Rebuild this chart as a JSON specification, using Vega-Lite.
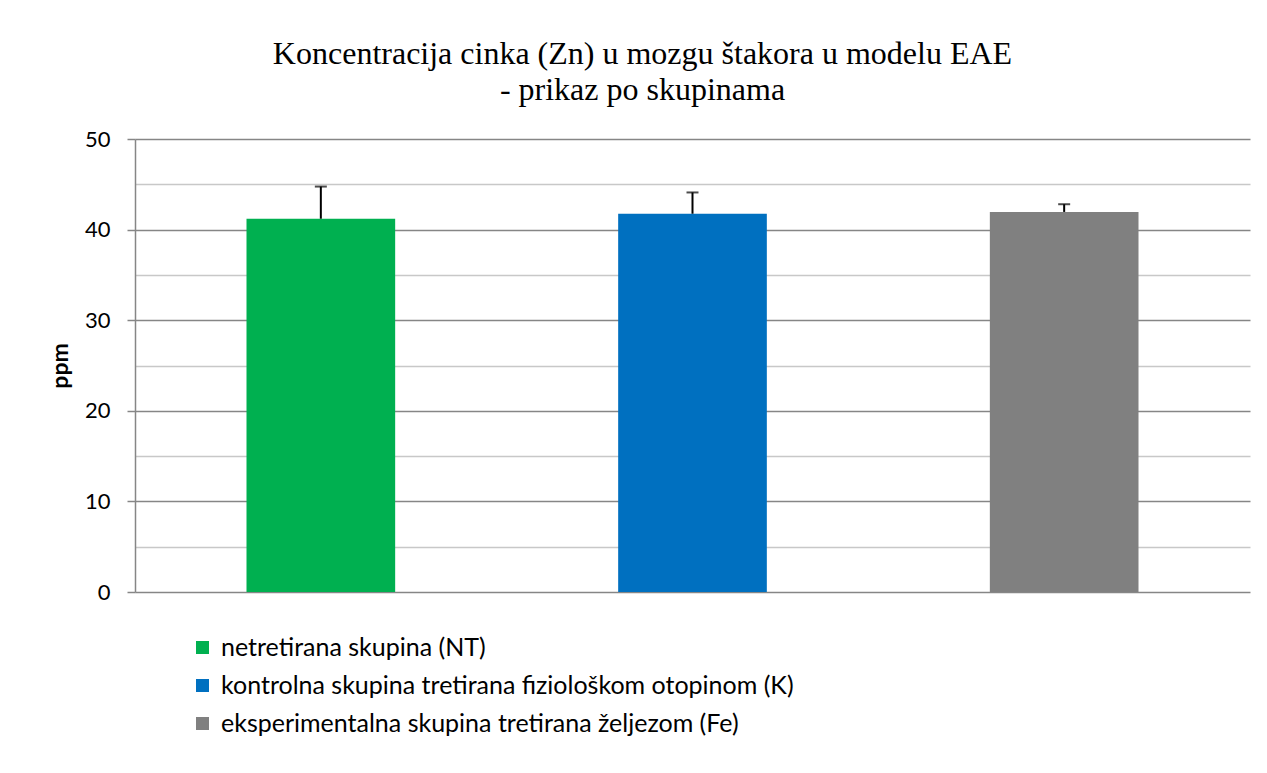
{
  "$schema": "https://vega.github.io/schema/vega-lite/v6.json",
  "width": 1115,
  "height": 453,
  "autosize": {"type": "none"},
  "padding": {"left": 135, "top": 139, "right": 17, "bottom": 181},
  "background": "white",
  "title": {
    "text": ["Koncentracija cinka (Zn) u mozgu štakora u modelu EAE", "- prikaz po skupinama"],
    "font": "Liberation Serif",
    "fontSize": 32,
    "fontWeight": "normal",
    "color": "#000000",
    "lineHeight": 36,
    "anchor": "middle",
    "frame": "group",
    "dx": -50,
    "offset": 21
  },
  "data": {
    "values": [
      {"group": "netretirana skupina (NT)", "ppm": 41.2, "upper": 44.75},
      {"group": "kontrolna skupina tretirana fiziološkom otopinom (K)", "ppm": 41.75, "upper": 44.1},
      {"group": "eksperimentalna skupina tretirana željezom (Fe)", "ppm": 41.95, "upper": 42.8}
    ]
  },
  "encoding": {
    "x": {
      "field": "group",
      "type": "nominal",
      "sort": null,
      "axis": null,
      "scale": {"paddingInner": 0.6, "paddingOuter": 0.3}
    }
  },
  "layer": [
    {
      "mark": {"type": "bar"},
      "encoding": {
        "y": {
          "field": "ppm",
          "type": "quantitative",
          "scale": {"domain": [0, 50], "nice": false},
          "axis": {
            "title": "ppm",
            "titleFont": "Lato",
            "titleFontSize": 23,
            "titleFontWeight": "bold",
            "titleColor": "#000000",
            "titlePadding": 12,
            "values": [0, 5, 10, 15, 20, 25, 30, 35, 40, 45, 50],
            "labelExpr": "datum.value % 10 === 0 ? datum.label : ''",
            "labelFont": "Lato",
            "labelFontSize": 22,
            "labelColor": "#000000",
            "labelPadding": 17,
            "tickSize": 8,
            "tickColor": "#868686",
            "tickWidth": 1.5,
            "tickOpacity": {"condition": {"test": "datum.value % 10 === 0", "value": 1}, "value": 0},
            "domainColor": "#868686",
            "domainWidth": 1.5,
            "grid": true,
            "gridWidth": 1.5,
            "gridColor": {"condition": {"test": "datum.value % 10 === 0", "value": "#868686"}, "value": "#c8c8c8"}
          }
        },
        "color": {
          "field": "group",
          "type": "nominal",
          "sort": null,
          "scale": {"range": ["#00B050", "#0070C0", "#808080"]},
          "legend": {
            "title": null,
            "orient": "none",
            "legendX": 55,
            "legendY": 496,
            "direction": "vertical",
            "symbolType": "square",
            "symbolSize": 169,
            "symbolStrokeWidth": 0,
            "labelFont": "Lato",
            "labelFontSize": 25,
            "labelColor": "#000000",
            "labelOffset": 6,
            "rowPadding": 12,
            "padding": 0,
            "labelLimit": 900
          }
        }
      }
    },
    {
      "mark": {"type": "rule", "color": "#000000", "strokeWidth": 2},
      "encoding": {
        "y": {"field": "ppm", "type": "quantitative"},
        "y2": {"field": "upper"}
      }
    },
    {
      "mark": {"type": "tick", "color": "#000000", "thickness": 2, "size": 12},
      "encoding": {
        "y": {"field": "upper", "type": "quantitative"}
      }
    }
  ],
  "config": {
    "view": {"stroke": null}
  }
}
